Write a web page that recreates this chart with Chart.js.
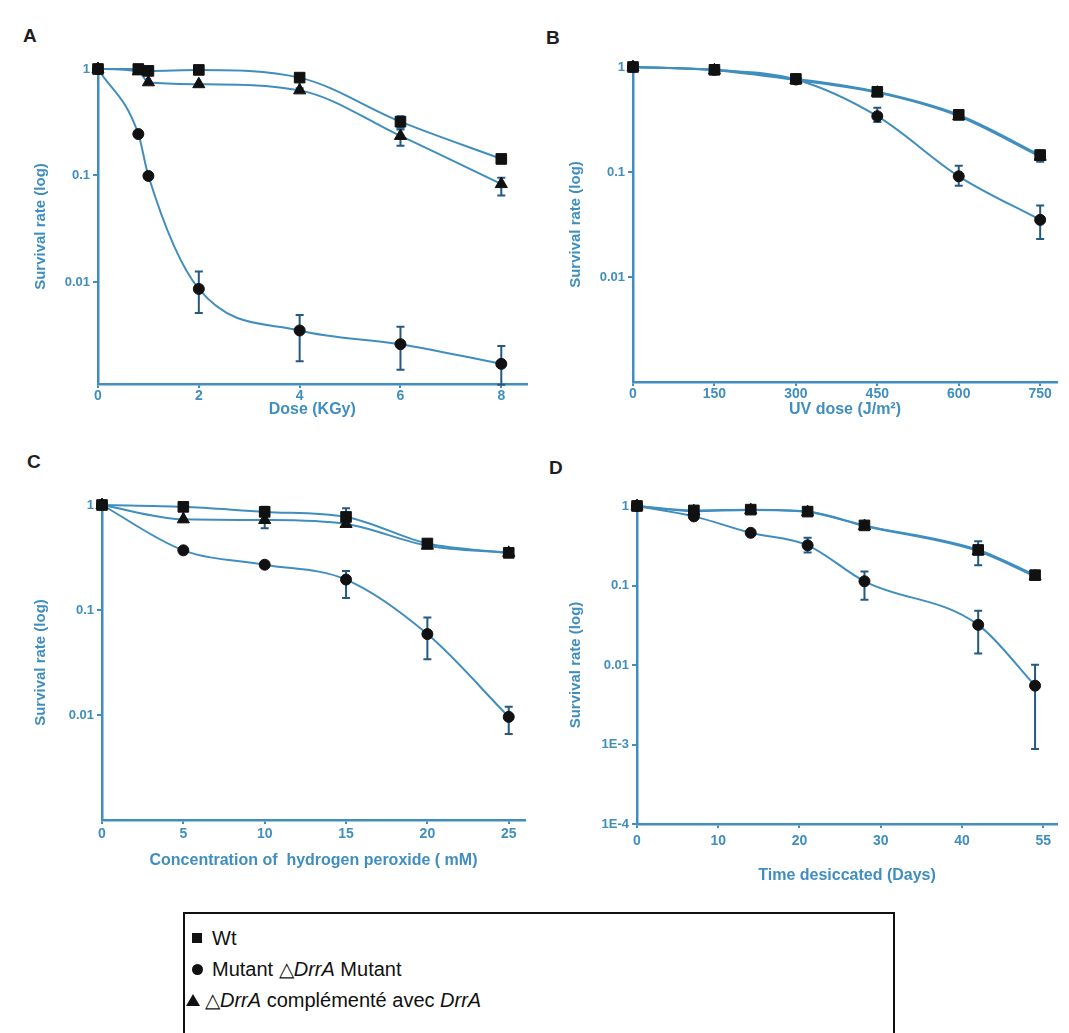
<!DOCTYPE html>
<html>
<head>
<meta charset="utf-8">
<script src="https://cdn.jsdelivr.net/npm/chart.js@4.4.0/dist/chart.umd.min.js"></script>
<style>
  body { margin: 0; background: #fff; width: 1069px; height: 1033px; overflow: hidden; position: relative; font-family: 'Liberation Sans', Arial, sans-serif; }
  canvas { position: absolute; }
  .letter { position: absolute; font: bold 19px 'Liberation Sans', Arial, sans-serif; color: #1e1e1e; }
  #legend { position: absolute; left: 183px; top: 912px; width: 712px; height: 140px; border: 2px solid #111; box-sizing: border-box; }
  .row { position: absolute; font-size: 20px; color: #111; white-space: nowrap; line-height: 22px; }
  .sq { position: absolute; width: 10px; height: 10px; background: #111; }
  .ci { position: absolute; width: 11px; height: 11px; background: #111; border-radius: 50%; }
  .tr { position: absolute; width: 0; height: 0; border-left: 7px solid transparent; border-right: 7px solid transparent; border-bottom: 12px solid #111; }
  i { font-style: italic; }
</style>
</head>
<body>
<div class="letter" style="left:23px;top:25px">A</div>
<div class="letter" style="left:546px;top:27px">B</div>
<div class="letter" style="left:27px;top:451px">C</div>
<div class="letter" style="left:549px;top:457px">D</div>

<canvas id="chartA" width="535" height="440" style="left:0;top:0"></canvas>
<canvas id="chartB" width="534" height="440" style="left:535px;top:0"></canvas>
<canvas id="chartC" width="535" height="460" style="left:0;top:440px"></canvas>
<canvas id="chartD" width="534" height="460" style="left:535px;top:440px"></canvas>

<div id="legend"></div>
<div class="sq" style="left:192px;top:933px"></div>
<div class="row" style="left:212px;top:927px">Wt</div>
<div class="ci" style="left:192px;top:964px"></div>
<div class="row" style="left:212px;top:958px">Mutant △<i>DrrA</i> Mutant</div>
<div class="tr" style="left:186px;top:994px"></div>
<div class="row" style="left:205px;top:989px">△<i>DrrA</i> complémenté avec <i>DrrA</i></div>

<script>
// ---- Panel A: gamma radiation ----
const doseA = [0, 0.8, 1, 2, 4, 6, 8];
const wtA = [1, 1, 0.96, 0.98, 0.83, 0.32, 0.143];
const wtALo = [null, null, null, null, 0.66, 0.28, 0.13];
const wtAHi = [null, null, null, null, 0.9, 0.36, 0.155];
const compA = [1, 0.95, 0.75, 0.72, 0.63, 0.235, 0.083];
const compALo = [null, null, null, null, null, 0.19, 0.065];
const compAHi = [null, null, null, null, null, 0.27, 0.095];
const mutA = [1, 0.245, 0.099, 0.0086, 0.0035, 0.0026, 0.0017];
const mutALo = [null, null, null, 0.0051, 0.0018, 0.0015, 0.00108];
const mutAHi = [null, null, null, 0.0125, 0.0049, 0.0038, 0.0025];
const ticksAX = [0, 2, 4, 6, 8];
const labelsAX = ['0', '2', '4', '6', '8'];

// ---- Panel B: UV ----
const doseB = [0, 150, 300, 450, 600, 750];
const wtB = [1, 0.94, 0.77, 0.58, 0.35, 0.145];
const wtBLo = [null, null, null, null, null, 0.125];
const wtBHi = [null, null, null, null, null, 0.16];
const compB = [1, 0.93, 0.75, 0.57, 0.34, 0.14];
const mutB = [1, 0.94, 0.76, 0.34, 0.091, 0.035];
const mutBLo = [null, null, null, 0.3, 0.074, 0.023];
const mutBHi = [null, null, null, 0.41, 0.115, 0.048];
const ticksBX = [0, 150, 300, 450, 600, 750];
const labelsBX = ['0', '150', '300', '450', '600', '750'];

// ---- Panel C: hydrogen peroxide ----
const concC = [0, 5, 10, 15, 20, 25];
const wtC = [1, 0.96, 0.86, 0.77, 0.43, 0.35];
const wtCLo = [null, 0.69, 0.6, 0.64, null, null];
const wtCHi = [null, 1.04, 0.96, 0.93, null, null];
const compC = [1, 0.73, 0.72, 0.66, 0.41, 0.35];
const mutC = [1, 0.37, 0.27, 0.195, 0.059, 0.0096];
const mutCLo = [null, null, null, 0.13, 0.034, 0.0066];
const mutCHi = [null, null, null, 0.235, 0.085, 0.012];
const ticksCX = [0, 5, 10, 15, 20, 25];
const labelsCX = ['0', '5', '10', '15', '20', '25'];

// ---- Panel D: desiccation ----
const daysD = [0, 7, 14, 21, 28, 42, 49];
const wtD = [1, 0.88, 0.9, 0.85, 0.57, 0.28, 0.135];
const wtDLo = [null, null, null, null, null, 0.18, null];
const wtDHi = [null, null, null, null, null, 0.36, null];
const compD = [1, 0.86, 0.89, 0.84, 0.56, 0.27, 0.13];
const mutD = [1, 0.74, 0.46, 0.32, 0.113, 0.032, 0.0055];
const mutDLo = [null, null, null, 0.26, 0.066, 0.014, 0.00088];
const mutDHi = [null, null, null, 0.4, 0.15, 0.048, 0.0101];
const ticksDX = [0, 10, 20, 30, 40, 50];
const labelsDX = ['0', '10', '20', '30', '40', '55'];

const ticksY = [1, 0.1, 0.01];
const labelsY = ['1', '0.1', '0.01'];
const ticksYD = [1, 0.1, 0.01, 0.001, 0.0001];
const labelsYD = ['1', '0.1', '0.01', '1E-3', '1E-4'];

const BLUE = '#3f8ebf';
const ERR = '#245a82';
const TITLE_SIZE = 16;

// vertical error bars, drawn through the chart scales
const errorBars = {
  id: 'errorBars',
  beforeDatasetsDraw(chart) {
    const { ctx, scales: { x, y } } = chart;
    chart.data.datasets.forEach(ds => {
      if (!ds.errLo) return;
      ctx.save();
      ctx.strokeStyle = ERR;
      ctx.lineWidth = 2;
      ds.data.forEach((p, i) => {
        const lo = ds.errLo[i], hi = ds.errHi[i];
        if (lo == null || hi == null) return;
        const px = x.getPixelForValue(p.x);
        const y1 = y.getPixelForValue(lo), y2 = y.getPixelForValue(hi);
        ctx.beginPath();
        ctx.moveTo(px, y1); ctx.lineTo(px, y2);
        ctx.moveTo(px - 4, y1); ctx.lineTo(px + 4, y1);
        ctx.moveTo(px - 4, y2); ctx.lineTo(px + 4, y2);
        ctx.stroke();
      });
      ctx.restore();
    });
  }
};

function series(xs, ys, style, lo, hi) {
  const sizes = { rect: 7.5, circle: 5.5, triangle: 7 };
  return {
    data: xs.map((v, i) => ({ x: v, y: ys[i] })),
    errLo: lo, errHi: hi,
    borderColor: BLUE,
    borderWidth: 2,
    cubicInterpolationMode: 'monotone',
    pointStyle: style,
    pointRadius: sizes[style],
    pointBackgroundColor: '#111',
    pointBorderColor: '#111',
    pointBorderWidth: 1,
    clip: false
  };
}

function makePanel(id, geo, datasets, xTicks, xLabels, xMax, xTitle, yTicks, yLabels, yMin) {
  const canvas = document.getElementById(id);
  const W = canvas.width, H = canvas.height;
  const padL = 32;
  // put the x title centre at geo.titleY
  const padB = H - (geo.titleY + TITLE_SIZE * 0.6);
  new Chart(canvas, {
    type: 'line',
    data: { datasets },
    plugins: [errorBars],
    options: {
      responsive: false,
      animation: false,
      layout: { padding: { left: padL, top: geo.top, right: W - geo.right, bottom: padB } },
      plugins: { legend: { display: false }, tooltip: { enabled: false } },
      scales: {
        x: {
          type: 'linear', min: 0, max: xMax,
          afterFit: s => { s.height = H - padB - geo.bottom; },
          afterBuildTicks: s => { s.ticks = xTicks.map(v => ({ value: v })); },
          ticks: { callback: (v, i) => xLabels[i], color: BLUE, padding: geo.tickPad, maxRotation: 0,
                   font: { family: 'Liberation Sans', size: 14, weight: 'bold' } },
          grid: { drawOnChartArea: false, tickLength: 4, color: BLUE, lineWidth: 2 },
          border: { display: true, color: BLUE, width: 2.5 },
          title: { display: true, text: xTitle, color: BLUE, padding: 0,
                   font: { family: 'Liberation Sans', size: TITLE_SIZE, weight: 'bold' } }
        },
        y: {
          type: 'logarithmic', min: yMin, max: 1,
          afterFit: s => { s.width = geo.left - padL; },
          afterBuildTicks: s => { s.ticks = yTicks.map(v => ({ value: v })); },
          ticks: { callback: (v, i) => yLabels[i], color: BLUE, padding: 3,
                   font: { family: 'Liberation Sans', size: 13, weight: 'bold' } },
          grid: { drawOnChartArea: false, tickLength: 5, color: BLUE, lineWidth: 2 },
          border: { display: true, color: BLUE, width: 2.5 },
          title: { display: true, text: 'Survival rate (log)', color: BLUE, padding: 0,
                   font: { family: 'Liberation Sans', size: 15, weight: 'bold' } }
        }
      }
    }
  });
}

makePanel('chartA', { left: 98, top: 69, right: 528, bottom: 384, titleY: 410, tickPad: 0 }, [
  series(doseA, wtA, 'rect', wtALo, wtAHi),
  series(doseA, compA, 'triangle', compALo, compAHi),
  series(doseA, mutA, 'circle', mutALo, mutAHi)
], ticksAX, labelsAX, 8.5, 'Dose (KGy)', ticksY, labelsY, 0.0011);

makePanel('chartB', { left: 98, top: 67, right: 522, bottom: 382, titleY: 410, tickPad: 0 }, [
  series(doseB, wtB, 'rect', wtBLo, wtBHi),
  series(doseB, compB, 'triangle'),
  series(doseB, mutB, 'circle', mutBLo, mutBHi)
], ticksBX, labelsBX, 781, 'UV dose (J/m²)', ticksY, labelsY, 0.001);

makePanel('chartC', { left: 102, top: 65, right: 525, bottom: 380, titleY: 421, tickPad: 2 }, [
  series(concC, wtC, 'rect', wtCLo, wtCHi),
  series(concC, compC, 'triangle'),
  series(concC, mutC, 'circle', mutCLo, mutCHi)
], ticksCX, labelsCX, 26, 'Concentration of  hydrogen peroxide ( mM)', ticksY, labelsY, 0.001);

makePanel('chartD', { left: 102, top: 66, right: 522, bottom: 384, titleY: 436, tickPad: 5 }, [
  series(daysD, wtD, 'rect', wtDLo, wtDHi),
  series(daysD, compD, 'triangle'),
  series(daysD, mutD, 'circle', mutDLo, mutDHi)
], ticksDX, labelsDX, 51.7, 'Time desiccated (Days)', ticksYD, labelsYD, 0.0001);
</script>
</body>
</html>
